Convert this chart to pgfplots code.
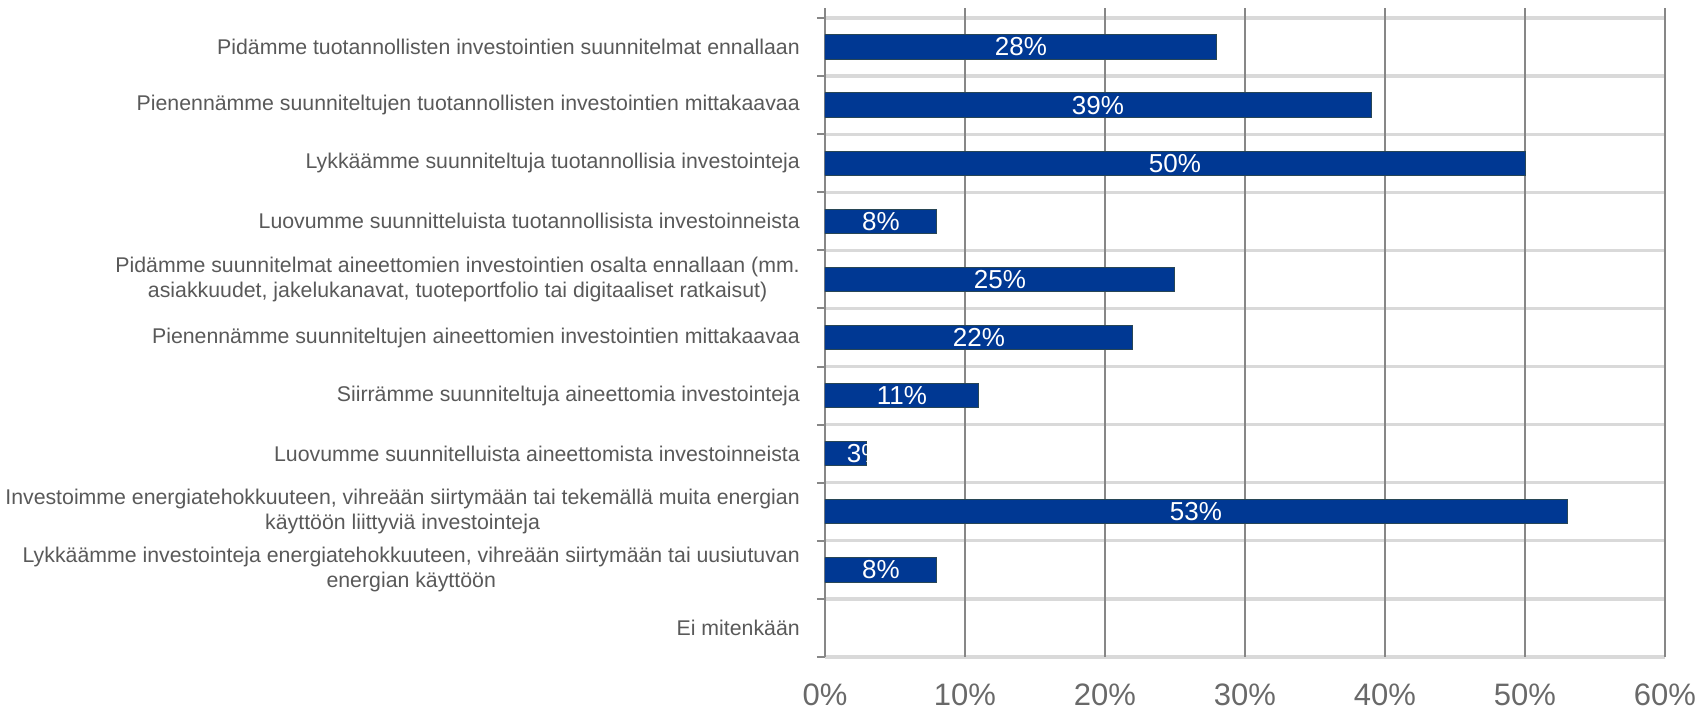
\documentclass[border=0pt]{standalone}
\usepackage{pgfplots}
\usepackage{pgfplotstable}
\pgfplotsset{compat=1.18}
\usepackage{fontspec}
\setmainfont{Liberation Sans}
\definecolor{barblue}{RGB}{0,56,147}
\definecolor{bardraw}{RGB}{40,70,85}
\definecolor{txtgray}{RGB}{89,89,89}
\definecolor{ticktxt}{RGB}{105,105,105}
\definecolor{vgrid}{RGB}{135,135,135}
\definecolor{hgrid}{RGB}{217,217,217}

\pgfplotstableread{
idx val
0 28
1 39
2 50
3 8
4 25
5 22
6 11
7 3
8 53
9 8
}\bars

\pgfplotstableread{
idx pos val
0 14 28
1 19.5 39
2 25 50
3 4 8
4 12.5 25
5 11 22
6 5.5 11
7 2.9 3
8 26.5 53
9 4 8
}\labs

\begin{document}
\begin{tikzpicture}
\begin{axis}[
  scale only axis,
  width=420pt, height=324.5pt,
  xmin=0, xmax=60,
  ymin=-0.672, ymax=10.5,
  y dir=reverse,
  /pgf/number format/assume math mode=true,
  xtick={0,10,...,60},
  xticklabels={0\%,10\%,20\%,30\%,40\%,50\%,60\%},
  extra x ticks={0,10,...,60},
  extra x tick labels={},
  extra x tick style={grid=major, major grid style={vgrid, line width=1.1pt}, tick style={draw=none}},
  ytick={0,...,10},
  minor ytick={-0.5,0.5,...,10.5},
  yminorgrids=true,
  minor grid style={hgrid, line width=1.6pt},
  major tick length=0pt,
  minor tick length=4pt,
  tick align=outside,
  ytick pos=left,
  xtick style={draw=none},
  ytick style={vgrid, line width=1pt},
  x axis line style={draw=none},
  y axis line style={vgrid, line width=1.1pt},
  axis x line*=bottom,
  axis y line*=left,
  xticklabel style={font=\fontsize{15.5}{18}\selectfont, text=ticktxt, anchor=north, inner sep=0pt, yshift=-13pt},
  yticklabel style={font=\fontsize{10.65}{12.5}\selectfont, text=txtgray, anchor=east, align=center, inner sep=0pt, xshift=-12.4pt},
  yticklabels={
    {Pidämme tuotannollisten investointien suunnitelmat ennallaan},
    {Pienennämme suunniteltujen tuotannollisten investointien mittakaavaa},
    {Lykkäämme suunniteltuja tuotannollisia investointeja},
    {Luovumme suunnitteluista tuotannollisista investoinneista},
    {Pidämme suunnitelmat aineettomien investointien osalta ennallaan (mm.\\asiakkuudet, jakelukanavat, tuoteportfolio tai digitaaliset ratkaisut)},
    {Pienennämme suunniteltujen aineettomien investointien mittakaavaa},
    {Siirrämme suunniteltuja aineettomia investointeja},
    {Luovumme suunnitelluista aineettomista investoinneista},
    {Investoimme energiatehokkuuteen, vihreään siirtymään tai tekemällä muita energian\\käyttöön liittyviä investointeja},
    {Lykkäämme investointeja energiatehokkuuteen, vihreään siirtymään tai uusiutuvan\\energian käyttöön},
    {Ei mitenkään}
  },
]
\addplot[xbar, bar width=12.2pt, fill=barblue, draw=bardraw, line width=0.5pt] table[x=val, y=idx] {\bars};
\addplot[draw=none, mark=none, nodes near coords={\pgfmathprintnumber{\pgfplotspointmeta}\%},
  point meta=explicit,
  every node near coord/.append style={anchor=center, text=white, font=\fontsize{13}{15}\selectfont, inner sep=0pt}]
  table[x=pos, y=idx, meta=val] {\labs};
\end{axis}
\pgfresetboundingbox
\path (current axis.south west) ++(-412.5pt,-26pt) coordinate (bl);
\path (current axis.north east) ++(17.5pt,4pt) coordinate (tr);
\path[use as bounding box] (bl) rectangle (tr);
\end{tikzpicture}
\end{document}
